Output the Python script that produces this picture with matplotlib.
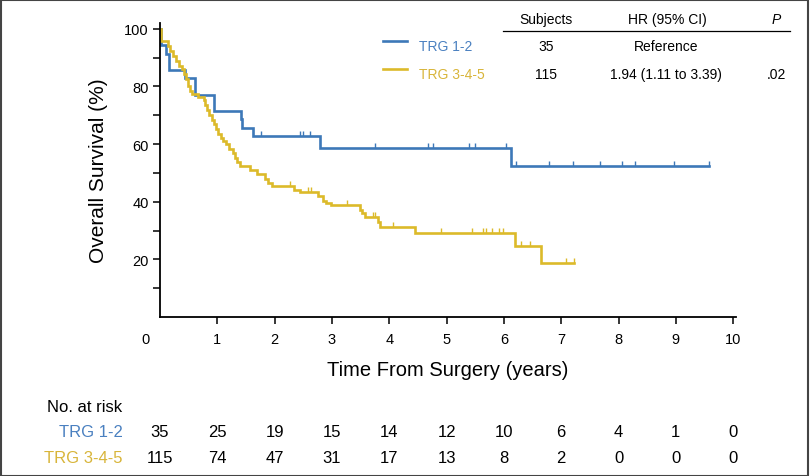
import numpy as np
import matplotlib
matplotlib.use("Agg")
import matplotlib.pyplot as plt
from matplotlib.transforms import blended_transform_factory, ScaledTranslation
from matplotlib.patches import Rectangle
from matplotlib.lines import Line2D

# ---- data ----
groups = ["TRG 1-2", "TRG 3-4-5"]
subjects = ["35", "115"]
hr_text = ["Reference", "1.94 (1.11 to 3.39)"]
p_text = ["", ".02"]

blue_t = [0, 0.02, 0.10, 0.16, 0.44, 0.61, 0.94, 1.41, 1.43, 1.63, 2.80, 6.12, 9.58]
blue_s = [100, 94.3, 91.4, 85.7, 82.9, 77.1, 71.4, 68.6, 65.7, 62.9, 58.8, 52.5, 52.5]
blue_cens = [1.77, 2.45, 2.49, 2.62, 3.75, 4.67, 4.76, 5.39, 5.50, 6.03, 6.22,
             6.79, 7.21, 7.67, 8.06, 8.28, 8.96, 9.58]

yel_t = [0, 0.01, 0.14, 0.18, 0.23, 0.28, 0.33, 0.38, 0.42, 0.46, 0.49, 0.52,
         0.56, 0.67, 0.76, 0.79, 0.82, 0.86, 0.90, 0.94, 0.98, 1.02, 1.06, 1.10,
         1.16, 1.21, 1.28, 1.31, 1.35, 1.40, 1.57, 1.69, 1.83, 1.89, 1.95, 2.33,
         2.44, 2.76, 2.84, 2.90, 2.98, 3.49, 3.53, 3.58, 3.81, 3.84, 4.45, 6.20,
         6.64, 7.23]
yel_s = [100, 95.7, 93.9, 92.2, 90.4, 88.7, 87.0, 86.1, 84.3, 82.6, 80.0, 78.3,
         77.4, 76.5, 75.3, 73.4, 71.7, 70.0, 68.2, 66.9, 65.2, 63.5, 62.2, 60.9,
         60.0, 58.3, 57.0, 55.2, 53.9, 52.5, 51.1, 49.7, 47.9, 46.6, 45.6, 44.2,
         43.3, 42.1, 40.4, 39.5, 38.7, 37.0, 36.2, 34.6, 32.9, 31.1, 29.1, 24.8,
         18.7, 18.7]
yel_cens = [2.27, 2.59, 2.63, 3.27, 3.71, 3.75, 4.07, 4.91, 5.44, 5.64, 5.69,
            5.79, 5.91, 5.99, 6.29, 6.45, 7.08, 7.23]

risk_times = [0, 1, 2, 3, 4, 5, 6, 7, 8, 9, 10]
risk_blue = [35, 25, 19, 15, 14, 12, 10, 6, 4, 1, 0]
risk_yel = [115, 74, 47, 31, 17, 13, 8, 2, 0, 0, 0]

x_ticks = [0, 1, 2, 3, 4, 5, 6, 7, 8, 9, 10]
y_ticks = [20, 40, 60, 80, 100]
y_minor = [10, 30, 50, 70, 90]

BLUE = "#3d78b8"
YEL = "#dcba2a"
BLUE_TXT = "#4a80c0"
YEL_TXT = "#d8b53a"

NARROW = ["Liberation Sans Narrow", "Liberation Sans", "DejaVu Sans"]
REG = ["Liberation Sans", "DejaVu Sans"]

W, H = 810, 477
fig = plt.figure(figsize=(W / 100, H / 100), dpi=100)

def fx(px):
    return px / W

def fy(py):
    return 1 - py / H

ax_left, ax_right = 160, 736
ax_top, ax_bot = 24, 318
ax = fig.add_axes([fx(ax_left), fy(ax_bot), fx(ax_right - ax_left), (ax_bot - ax_top) / H])
ax.set_xlim(0, 10.05)
ax.set_ylim(0, 102)

def step_at(ts, ss, x):
    i = np.searchsorted(np.asarray(ts), x, side="right") - 1
    return np.asarray(ss)[i]

for ts, ss, cens, col in [(blue_t, blue_s, blue_cens, BLUE), (yel_t, yel_s, yel_cens, YEL)]:
    ax.step(ts, ss, where="post", color=col, lw=1.9, solid_joinstyle="miter")
    cy = [step_at(ts, ss, c) for c in cens]
    ax.plot(cens, cy, linestyle="none", marker=2, markersize=3.5, mew=1.0, color=col)

for s in ["top", "right"]:
    ax.spines[s].set_visible(False)
for s in ["left", "bottom"]:
    ax.spines[s].set_linewidth(1.3)
    ax.spines[s].set_color("black")

ax.set_xticks(x_ticks)
ax.set_xticklabels([str(v) for v in x_ticks], fontfamily=REG, fontsize=10.5)
ax.set_yticks(y_ticks)
ax.set_yticklabels([str(v) for v in y_ticks], fontfamily=REG, fontsize=10.5)
ax.set_yticks(y_minor, minor=True)
ax.tick_params(axis="x", length=5, width=1.1, pad=6)
ax.tick_params(axis="y", which="both", length=5, width=1.1, pad=3)
# origin label shifted left, no tick at 0
ticks = ax.xaxis.get_major_ticks()
ticks[0].tick1line.set_visible(False)
lbl0 = ax.get_xticklabels()[0]
lbl0.set_transform(lbl0.get_transform() + ScaledTranslation(-14 / 100, 0, fig.dpi_scale_trans))

ax.set_ylabel("Overall Survival (%)", fontfamily=NARROW, fontsize=15, labelpad=12)
ax.set_xlabel("Time From Surgery (years)", fontfamily=NARROW, fontsize=14.5, labelpad=10)

# ---- legend table ----
def text_px(x, y, s, **kw):
    fig.text(fx(x), fy(y), s, **kw)

text_px(546, 20, "Subjects", ha="center", va="center", fontfamily=REG, fontsize=10)
text_px(667, 20, "HR (95% CI)", ha="center", va="center", fontfamily=REG, fontsize=10)
text_px(776, 20, "P", ha="center", va="center", fontfamily=REG, fontsize=10, style="italic")
fig.add_artist(Line2D([fx(503), fx(790)], [fy(31.5), fy(31.5)], color="black", lw=0.9))

row_y = [47, 75]
cols = [BLUE, YEL]
tcols = [BLUE_TXT, YEL_TXT]
for i in range(2):
    y = row_y[i]
    fig.add_artist(Line2D([fx(383), fx(407)], [fy(y - 5), fy(y - 5)], color=cols[i], lw=1.9))
    text_px(419, y, groups[i], ha="left", va="center", fontfamily=REG, fontsize=10, color=tcols[i])
    text_px(546, y, subjects[i], ha="center", va="center", fontfamily=REG, fontsize=10)
    text_px(666, y, hr_text[i], ha="center", va="center", fontfamily=REG, fontsize=10)
    if p_text[i]:
        text_px(776, y, p_text[i], ha="center", va="center", fontfamily=REG, fontsize=10)

# ---- risk table ----
text_px(47, 408, "No. at risk", ha="left", va="center", fontfamily=NARROW, fontsize=12)
trans = blended_transform_factory(ax.transData, fig.transFigure)
risk_rows = [(groups[0], risk_blue, BLUE_TXT, 433), (groups[1], risk_yel, YEL_TXT, 459)]
for name, vals, col, y in risk_rows:
    text_px(123, y, name, ha="right", va="center", fontfamily=NARROW, fontsize=12, color=col)
    for t, v in zip(risk_times, vals):
        ax.text(t, fy(y), str(v), transform=trans, ha="center", va="center",
                fontfamily=NARROW, fontsize=12, clip_on=False)

# figure border
fig.add_artist(Rectangle((0.001, 0.001), 0.997, 0.996, transform=fig.transFigure,
                         fill=False, edgecolor="#444444", lw=1.5))

fig.savefig("out.png", dpi=100)
